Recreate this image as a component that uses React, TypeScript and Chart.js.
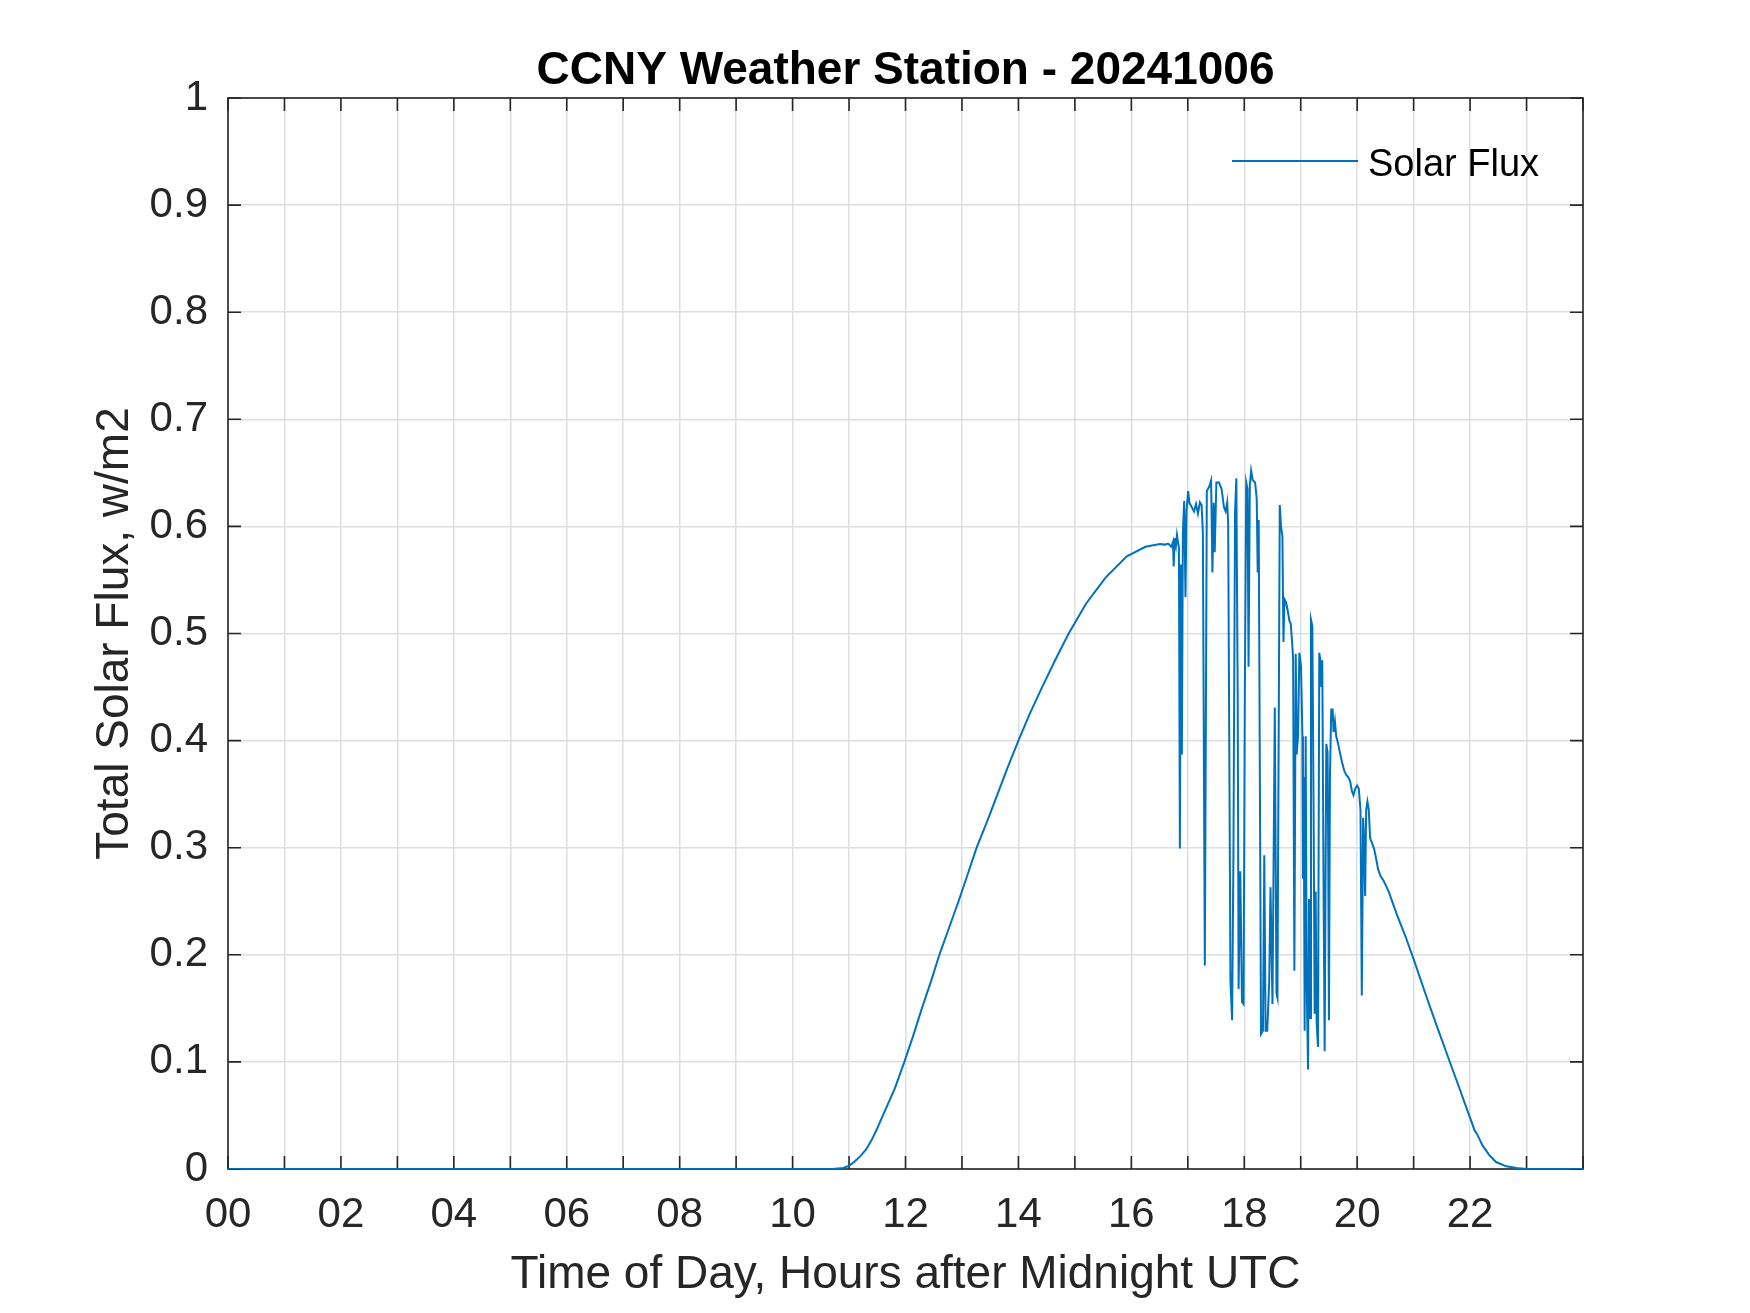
import { useEffect, useRef } from 'react'
import { Chart, registerables } from 'chart.js'

Chart.register(...registerables)

// hours after midnight UTC
const hours = [
  0, 10.7, 10.8, 10.9, 11.0, 11.1, 11.2, 11.3, 11.4, 11.5, 11.6, 11.7, 11.81, 11.98,
  12.14, 12.29, 12.45, 12.6, 12.77, 12.94, 13.1, 13.26, 13.45, 13.63, 13.81, 14.0, 14.2,
  14.42, 14.65, 14.89, 15.2, 15.54, 15.92, 16.25, 16.506, 16.593, 16.651, 16.709,
  16.738, 16.75, 16.767, 16.79, 16.808, 16.826, 16.843, 16.86, 16.878, 16.895, 16.913,
  16.936, 16.959, 16.977, 17.006, 17.029, 17.07, 17.11, 17.145, 17.18, 17.215, 17.244,
  17.267, 17.302, 17.337, 17.378, 17.413, 17.436, 17.459, 17.477, 17.506, 17.552, 17.599,
  17.64, 17.669, 17.698, 17.715, 17.756, 17.785, 17.808, 17.837, 17.86, 17.884, 17.9,
  17.93, 17.96, 17.988, 18.01, 18.035, 18.058, 18.076, 18.099, 18.122, 18.151, 18.192,
  18.221, 18.238, 18.256, 18.297, 18.331, 18.355, 18.378, 18.407, 18.442, 18.465, 18.5,
  18.541, 18.571, 18.588, 18.629, 18.653, 18.676, 18.694, 18.712, 18.741, 18.771, 18.8,
  18.824, 18.847, 18.865, 18.888, 18.912, 18.929, 18.953, 18.976, 19.006, 19.03, 19.04,
  19.053, 19.07, 19.088, 19.106, 19.13, 19.147, 19.165, 19.182, 19.206, 19.229, 19.247,
  19.265, 19.282, 19.306, 19.329, 19.353, 19.365, 19.382, 19.406, 19.424, 19.453, 19.476,
  19.488, 19.5, 19.518, 19.541, 19.565, 19.582, 19.606, 19.629, 19.659, 19.694, 19.735,
  19.771, 19.806, 19.841, 19.876, 19.906, 19.935, 19.965, 20.0, 20.029, 20.059, 20.082,
  20.106, 20.124, 20.141, 20.159, 20.182, 20.206, 20.229, 20.265, 20.3, 20.335, 20.37,
  20.41, 20.47, 20.559, 20.7, 20.85, 21.0, 21.2, 21.4, 21.6, 21.8, 21.95, 22.02, 22.08,
  22.12, 22.22, 22.34, 22.46, 22.64, 22.82, 23.0, 24.0,
]

// total solar flux, w/m2
const solarFlux = [
  0, 0, 0.0005, 0.001, 0.003, 0.007, 0.012, 0.018, 0.027, 0.038, 0.05, 0.062, 0.075, 0.1,
  0.125, 0.15, 0.175, 0.2, 0.225, 0.25, 0.275, 0.3, 0.325, 0.35, 0.375, 0.4, 0.425,
  0.45, 0.475, 0.5, 0.528, 0.552, 0.572, 0.581, 0.5836, 0.583, 0.584, 0.581,
  0.5855, 0.5626, 0.589, 0.5817, 0.592, 0.5855, 0.58, 0.2992, 0.5645, 0.387, 0.595,
  0.6237, 0.534, 0.614, 0.633, 0.622, 0.618, 0.614, 0.621, 0.612, 0.6225, 0.62,
  0.595, 0.19, 0.633, 0.637, 0.643, 0.557, 0.622, 0.576, 0.641, 0.641, 0.635,
  0.618, 0.614, 0.6225, 0.603, 0.175, 0.139, 0.29, 0.614, 0.645, 0.442, 0.168,
  0.278, 0.156, 0.154, 0.442, 0.641, 0.635, 0.469, 0.639, 0.652, 0.643, 0.641,
  0.626, 0.557, 0.606, 0.126, 0.129, 0.293, 0.129, 0.129, 0.175, 0.263, 0.154,
  0.431, 0.164, 0.16, 0.62, 0.599, 0.591, 0.492, 0.532, 0.529, 0.521, 0.512,
  0.509, 0.492, 0.477, 0.185, 0.481, 0.387, 0.404, 0.482, 0.469, 0.404, 0.271,
  0.366, 0.129, 0.404, 0.175, 0.093, 0.252, 0.141, 0.513, 0.507, 0.328, 0.145,
  0.259, 0.137, 0.114, 0.482, 0.473, 0.45, 0.475, 0.252, 0.11, 0.397, 0.389,
  0.29, 0.139, 0.366, 0.429, 0.429, 0.408, 0.418, 0.404, 0.398, 0.389, 0.379,
  0.372, 0.368, 0.366, 0.362, 0.353, 0.349, 0.355, 0.358, 0.355, 0.335, 0.162,
  0.328, 0.305, 0.255, 0.335, 0.343, 0.335, 0.309, 0.304, 0.299, 0.29, 0.28,
  0.274, 0.269, 0.259, 0.238, 0.218, 0.196, 0.165, 0.135, 0.106, 0.077, 0.055, 0.045, 0.036,
  0.033, 0.022, 0.013, 0.0065, 0.0025, 0.001, 0, 0,
]

const xTickLabels = ['00', '02', '04', '06', '08', '10', '12', '14', '16', '18', '20', '22']
const yTickLabels = ['0', '0.1', '0.2', '0.3', '0.4', '0.5', '0.6', '0.7', '0.8', '0.9', '1']

const FONT = "'Liberation Sans', Arial, Helvetica, sans-serif"
const AXIS_COLOR = '#262626'
const GRID_COLOR = '#dedede'
const LINE_COLOR = '#0072BD'
const TICK_LEN = 13

// MATLAB-like box with inward ticks, plus the legend in the top right corner
const matlabFrame = {
  id: 'matlabFrame',
  beforeDatasetsDraw(chart: any) {
    const { ctx, chartArea, scales } = chart
    const { left, top, right, bottom } = chartArea
    ctx.save()
    ctx.strokeStyle = AXIS_COLOR
    ctx.lineWidth = 1.6
    ctx.beginPath()
    for (const t of scales.x.ticks) {
      const px = scales.x.getPixelForValue(t.value)
      ctx.moveTo(px, bottom); ctx.lineTo(px, bottom - TICK_LEN)
      ctx.moveTo(px, top); ctx.lineTo(px, top + TICK_LEN)
    }
    for (const t of scales.y.ticks) {
      const py = scales.y.getPixelForValue(t.value)
      ctx.moveTo(left, py); ctx.lineTo(left + TICK_LEN, py)
      ctx.moveTo(right, py); ctx.lineTo(right - TICK_LEN, py)
    }
    ctx.stroke()
    ctx.strokeRect(left, top, right - left, bottom - top)
    ctx.restore()
  },
  afterDatasetsDraw(chart: any) {
    const { ctx, chartArea } = chart
    const ds = chart.data.datasets[0]
    const y = chartArea.top + 63
    ctx.save()
    ctx.strokeStyle = ds.borderColor
    ctx.lineWidth = ds.borderWidth
    ctx.beginPath()
    ctx.moveTo(chartArea.right - 351, y)
    ctx.lineTo(chartArea.right - 225, y)
    ctx.stroke()
    ctx.fillStyle = '#000'
    ctx.font = `38px ${FONT}`
    ctx.textBaseline = 'alphabetic'
    ctx.textAlign = 'left'
    ctx.fillText(ds.label, chartArea.right - 215, chartArea.top + 78)
    ctx.restore()
  },
}

export default function App() {
  const canvasRef = useRef<HTMLCanvasElement>(null)
  const chartRef = useRef<Chart | null>(null)

  useEffect(() => {
    document.body.style.margin = '0'
    const canvas = canvasRef.current
    if (!canvas) return
    chartRef.current?.destroy()
    chartRef.current = new Chart(canvas, {
      type: 'line',
      data: {
        datasets: [{
          label: 'Solar Flux',
          data: hours.map((h, i) => ({ x: h, y: solarFlux[i] })),
          borderColor: LINE_COLOR,
          borderWidth: 2,
          pointRadius: 0,
          fill: false,
          tension: 0,
        }],
      },
      options: {
        responsive: false,
        animation: false,
        layout: { padding: { left: 0, top: 0, right: 167, bottom: 0 } },
        scales: {
          x: {
            type: 'linear',
            min: 0, max: 24,
            afterFit: (scale: any) => { scale.height = 144 },
            ticks: {
              stepSize: 1,
              autoSkip: false,
              maxRotation: 0,
              padding: 21,
              color: AXIS_COLOR,
              font: { family: FONT, size: 42 },
              callback: (v: any) => (v % 2 === 0 && v < 24 ? xTickLabels[v / 2] : ''),
            },
            grid: { color: GRID_COLOR, lineWidth: 1.5, drawTicks: false },
            border: { display: false },
            title: {
              display: true,
              text: 'Time of Day, Hours after Midnight UTC',
              color: AXIS_COLOR,
              font: { family: FONT, size: 46 },
              padding: { top: 0, bottom: 10 },
            },
          },
          y: {
            type: 'linear',
            min: 0, max: 1,
            afterFit: (scale: any) => { scale.width = 228 },
            ticks: {
              stepSize: 0.1,
              padding: 20,
              color: AXIS_COLOR,
              font: { family: FONT, size: 42 },
              callback: (_v: any, i: number) => yTickLabels[i],
            },
            grid: { color: GRID_COLOR, lineWidth: 1.5, drawTicks: false },
            border: { display: false },
            title: {
              display: true,
              text: 'Total Solar Flux, w/m2',
              color: AXIS_COLOR,
              font: { family: FONT, size: 46 },
              padding: { top: 88, bottom: 0 },
            },
          },
        },
        plugins: {
          legend: { display: false },
          tooltip: { enabled: false },
          title: {
            display: true,
            fullSize: false,
            text: 'CCNY Weather Station - 20241006',
            color: '#000',
            font: { family: FONT, size: 46, weight: 'bold', lineHeight: 1.15 },
            padding: { top: 44.5, bottom: 0.6 },
          },
        },
      },
      plugins: [matlabFrame],
    })
    return () => { chartRef.current?.destroy() }
  }, [])

  return (
    <div style={{ width: 1750, height: 1313, background: '#fff' }}>
      <canvas ref={canvasRef} width={1750} height={1313} />
    </div>
  )
}
